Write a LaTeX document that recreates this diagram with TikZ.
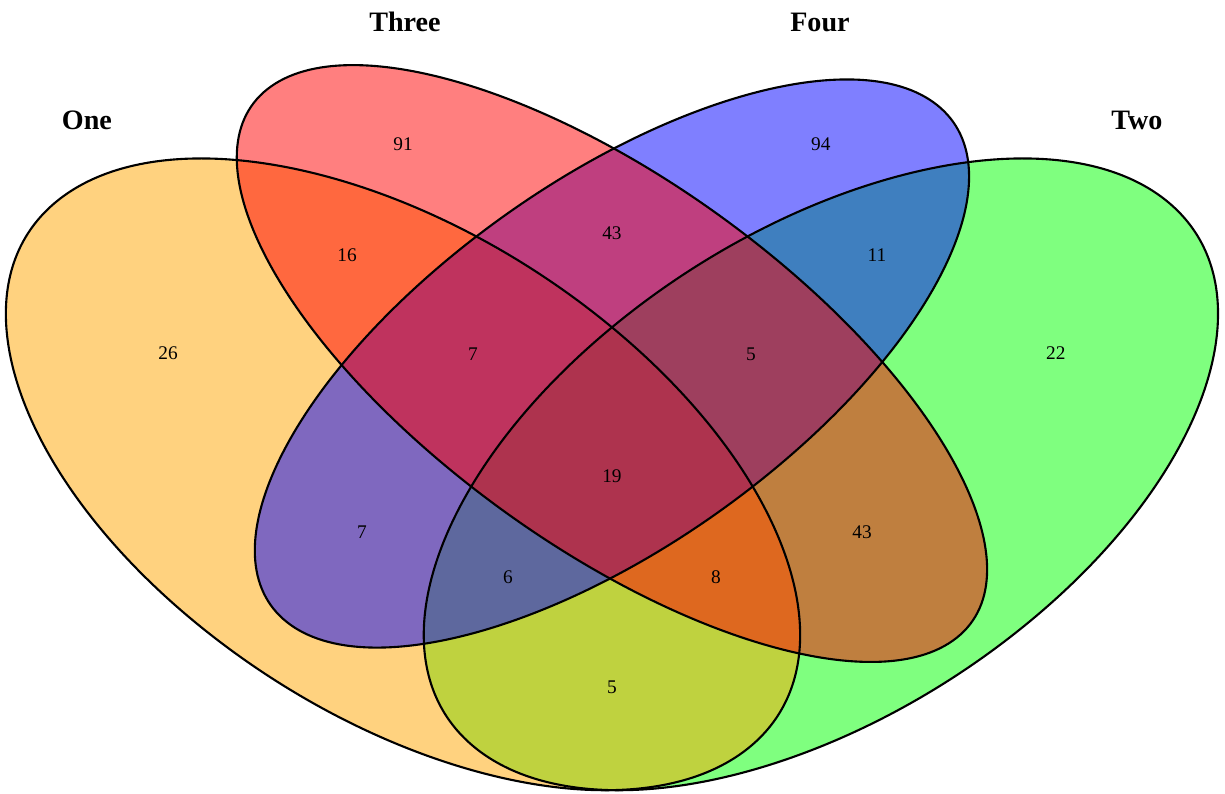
\documentclass[tikz,border=0pt]{standalone}
\usepackage{fontspec}
\setmainfont{Liberation Serif}
\definecolor{setgreen}{RGB}{0,255,0}
\definecolor{setorange}{RGB}{255,165,0}
\definecolor{setblue}{RGB}{0,0,255}
\definecolor{setred}{RGB}{255,0,0}

\begin{document}
\begin{tikzpicture}[
  xscale=27.86, yscale=22.16,
  setfill/.style={fill=#1, fill opacity=0.5},
  setline/.style={draw=black, line width=1.2pt},
  setname/.style={font=\fontsize{16}{19}\selectfont\bfseries, inner sep=0pt},
  count/.style={font=\fontsize{11}{13}\selectfont, inner sep=0pt}
]
  \useasboundingbox (0.0607,0.1815) rectangle (0.9401,0.8981);

  % fills, in the order they are painted
  \foreach \col/\cx/\cy/\ra/\rb/\ang in {setgreen/0.65/0.47/0.35/0.20/45,
      setorange/0.35/0.47/0.35/0.20/135, setblue/0.50/0.57/0.33/0.15/45,
      setred/0.50/0.57/0.35/0.15/135} {
    \fill[setfill=\col, rotate around={\ang:(\cx,\cy)}]
      (\cx,\cy) ellipse [x radius=\ra, y radius=\rb];
  }
  % outlines
  \foreach \cx/\cy/\ra/\rb/\ang in {0.65/0.47/0.35/0.20/45, 0.35/0.47/0.35/0.20/135,
      0.50/0.57/0.33/0.15/45, 0.50/0.57/0.35/0.15/135} {
    \draw[setline, rotate around={\ang:(\cx,\cy)}]
      (\cx,\cy) ellipse [x radius=\ra, y radius=\rb];
  }

  \node[setname] (lone)   at (0.1231, 0.7898) {One};
  \node[setname] (ltwo)   at (0.8769, 0.7898) {Two};
  \node[setname] (lthree) at (0.3514, 0.8782) {Three};
  \node[setname] (lfour)  at (0.6493, 0.8782) {Four};

  \node[count] (n1)    at (0.1813, 0.5795) {26};
  \node[count] (n2)    at (0.8187, 0.5795) {22};
  \node[count] (n3)    at (0.3500, 0.7681) {91};
  \node[count] (n4)    at (0.6500, 0.7681) {94};
  \node[count] (n13)   at (0.3098, 0.6679) {16};
  \node[count] (n24)   at (0.6902, 0.6679) {11};
  \node[count] (n34)   at (0.5000, 0.6878) {43};
  \node[count] (n134)  at (0.4002, 0.5786) {7};
  \node[count] (n234)  at (0.5998, 0.5786) {5};
  \node[count] (n1234) at (0.5000, 0.4685) {19};
  \node[count] (n14)   at (0.3205, 0.4179) {7};
  \node[count] (n23)   at (0.6795, 0.4179) {43};
  \node[count] (n124)  at (0.4253, 0.3773) {6};
  \node[count] (n123)  at (0.5747, 0.3773) {8};
  \node[count] (n12)   at (0.5000, 0.2780) {5};
\end{tikzpicture}
\end{document}
